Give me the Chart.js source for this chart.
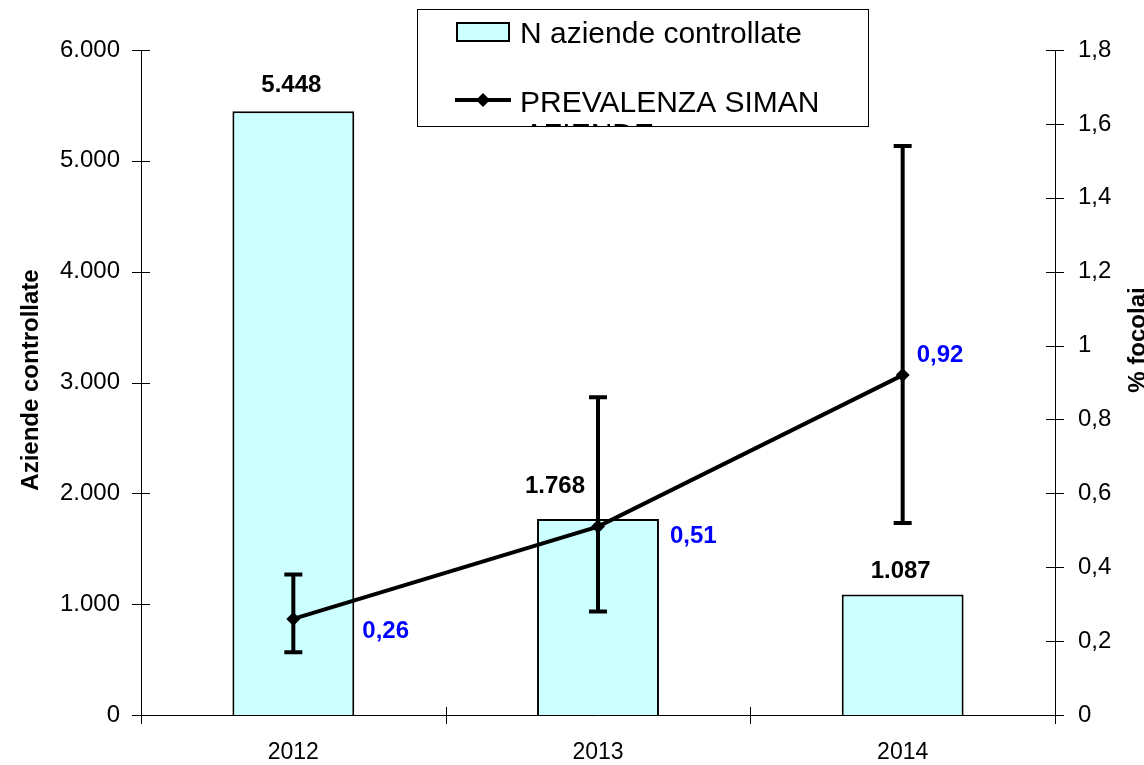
<!DOCTYPE html>
<html lang="it">
<head>
<meta charset="utf-8">
<title>Aziende controllate e prevalenza SIMAN</title>
<script src="https://cdn.jsdelivr.net/npm/chart.js@4.4.1/dist/chart.umd.min.js"></script>
<style>
  html, body { margin: 0; padding: 0; background: #fff; }
  canvas { display: block; }
</style>
</head>
<body>
<canvas id="grafico" width="1144" height="765"></canvas>
<script>
// Dati
const anni = ['2012', '2013', '2014'];
const aziendeControllate = [5448, 1768, 1087];
const prevalenza = [0.26, 0.51, 0.92];
const prevalenzaMin = [0.17, 0.28, 0.52];
const prevalenzaMax = [0.38, 0.86, 1.54];
const tickSinistra = ['0', '1.000', '2.000', '3.000', '4.000', '5.000', '6.000'];
const tickDestra = ['0', '0,2', '0,4', '0,6', '0,8', '1', '1,2', '1,4', '1,6', '1,8'];

const FONT = "'Liberation Sans', Arial, sans-serif";

// Formattazione italiana
function formatoMigliaia(v) {
    return String(v).replace(/\B(?=(\d{3})+(?!\d))/g, '.');
}
function formatoDecimale(v) {
    return String(v).replace('.', ',');
}

// Spostamento delle etichette (come nel grafico originale)
const spostaBarre = [[-2, -19], [-43, -26], [-2, -17]];
const spostaPunti = [[69, 19], [72, 16], [14, -13]];

const pluginDisegno = {
    id: 'disegno',
    afterDatasetsDraw(chart) {
        const ctx = chart.ctx;
        const x = chart.scales.x;
        const y1 = chart.scales.y1;
        // Barre di errore
        ctx.save();
        ctx.strokeStyle = '#000';
        ctx.lineWidth = 4;
        anni.forEach(function (a, i) {
            const px = x.getPixelForValue(i);
            const alto = y1.getPixelForValue(prevalenzaMax[i]);
            const basso = y1.getPixelForValue(prevalenzaMin[i]);
            ctx.beginPath();
            ctx.moveTo(px, alto); ctx.lineTo(px, basso);
            ctx.moveTo(px - 9, alto); ctx.lineTo(px + 9, alto);
            ctx.moveTo(px - 9, basso); ctx.lineTo(px + 9, basso);
            ctx.stroke();
        });
        ctx.restore();
    },
    afterDraw(chart) {
        const ctx = chart.ctx;
        const area = chart.chartArea;
        const x = chart.scales.x;
        const y = chart.scales.y;
        const y1 = chart.scales.y1;

        ctx.save();
        // Tacche degli assi
        ctx.strokeStyle = '#000';
        ctx.lineWidth = 1;
        ctx.beginPath();
        y.ticks.forEach(function (t) {
            const py = Math.round(y.getPixelForValue(t.value)) + 0.5;
            ctx.moveTo(area.left - 9, py); ctx.lineTo(area.left + 9, py);
        });
        y1.ticks.forEach(function (t) {
            const py = Math.round(y1.getPixelForValue(t.value)) + 0.5;
            ctx.moveTo(area.right - 9, py); ctx.lineTo(area.right + 9, py);
        });
        for (let i = 0; i <= anni.length; i++) {
            let px;
            if (i === 0) px = area.left;
            else if (i === anni.length) px = area.right;
            else px = (x.getPixelForValue(i - 1) + x.getPixelForValue(i)) / 2;
            px = Math.round(px) + 0.5;
            ctx.moveTo(px, area.bottom - 8); ctx.lineTo(px, area.bottom + 9);
        }
        ctx.stroke();

        // Etichette delle barre
        ctx.fillStyle = '#000';
        ctx.font = 'bold 24px ' + FONT;
        ctx.textAlign = 'center';
        ctx.textBaseline = 'alphabetic';
        aziendeControllate.forEach(function (v, i) {
            const px = x.getPixelForValue(i) + spostaBarre[i][0];
            const py = y.getPixelForValue(v) + spostaBarre[i][1];
            ctx.fillText(formatoMigliaia(v), px, py);
        });

        // Etichette della linea
        ctx.fillStyle = '#0000ff';
        ctx.textAlign = 'left';
        prevalenza.forEach(function (v, i) {
            const px = x.getPixelForValue(i) + spostaPunti[i][0];
            const py = y1.getPixelForValue(v) + spostaPunti[i][1];
            ctx.fillText(formatoDecimale(v), px, py);
        });

        // Titoli degli assi
        ctx.fillStyle = '#000';
        ctx.font = 'bold 24px ' + FONT;
        ctx.textAlign = 'center';
        ctx.textBaseline = 'middle';
        ctx.save();
        ctx.translate(31, 380);
        ctx.rotate(-Math.PI / 2);
        ctx.fillText('Aziende controllate', 0, 0);
        ctx.restore();
        ctx.save();
        ctx.translate(1138, 340);
        ctx.rotate(-Math.PI / 2);
        ctx.fillText('% focolai', 0, 0);
        ctx.restore();

        // Legenda
        ctx.save();
        ctx.beginPath();
        ctx.rect(417, 9, 452, 118);
        ctx.clip();
        ctx.fillStyle = '#fff';
        ctx.fillRect(417, 9, 452, 118);
        ctx.fillStyle = '#ccffff';
        ctx.fillRect(457, 23, 52, 18);
        ctx.strokeStyle = '#000';
        ctx.lineWidth = 2;
        ctx.strokeRect(457, 23, 52, 18);
        ctx.lineWidth = 4;
        ctx.beginPath();
        ctx.moveTo(455, 100); ctx.lineTo(511, 100);
        ctx.stroke();
        ctx.fillStyle = '#000';
        ctx.beginPath();
        ctx.moveTo(483, 93); ctx.lineTo(490, 100); ctx.lineTo(483, 107); ctx.lineTo(476, 100);
        ctx.closePath();
        ctx.fill();
        ctx.font = '30px ' + FONT;
        ctx.textAlign = 'left';
        ctx.textBaseline = 'alphabetic';
        ctx.fillText('N aziende controllate', 520, 43);
        ctx.fillText('PREVALENZA SIMAN', 520, 112);
        ctx.fillText('AZIENDE', 524, 144);
        ctx.restore();
        ctx.strokeStyle = '#000';
        ctx.lineWidth = 1;
        ctx.strokeRect(417.5, 9.5, 451, 117);
        ctx.restore();
    }
};

const ctx = document.getElementById('grafico').getContext('2d');
const grafico = new Chart(ctx, {
    data: {
        labels: anni,
        datasets: [
            {
                type: 'line',
                label: 'PREVALENZA SIMAN AZIENDE',
                data: prevalenza,
                yAxisID: 'y1',
                borderColor: '#000',
                borderWidth: 4,
                tension: 0,
                pointStyle: 'rectRot',
                pointRadius: 7,
                pointBackgroundColor: '#000',
                pointBorderColor: '#000',
                pointBorderWidth: 0,
                order: 0
            },
            {
                type: 'bar',
                label: 'N aziende controllate',
                data: aziendeControllate,
                yAxisID: 'y',
                backgroundColor: '#ccffff',
                borderColor: '#000',
                borderWidth: 2,
                barPercentage: 0.4,
                categoryPercentage: 1,
                order: 1
            }
        ]
    },
    options: {
        responsive: false,
        animation: false,
        layout: { padding: { top: 50, left: 0, right: 0, bottom: 0 } },
        plugins: {
            legend: { display: false },
            tooltip: { enabled: false }
        },
        scales: {
            x: {
                offset: true,
                grid: { display: false },
                border: { display: true, color: '#000', width: 1 },
                ticks: {
                    color: '#000',
                    padding: 16,
                    font: { family: "'Liberation Sans Narrow', " + FONT, size: 23 }
                },
                afterFit: function (scale) { scale.height = 50; }
            },
            y: {
                position: 'left',
                min: 0,
                max: 6000,
                grid: { display: false, drawTicks: false },
                border: { display: true, color: '#000', width: 1 },
                ticks: {
                    stepSize: 1000,
                    color: '#000',
                    padding: 21,
                    font: { family: FONT, size: 24 },
                    callback: function (v, i) { return tickSinistra[i]; }
                },
                afterFit: function (scale) { scale.width = 141; }
            },
            y1: {
                position: 'right',
                min: 0,
                max: 1.8,
                grid: { display: false, drawTicks: false },
                border: { display: true, color: '#000', width: 1 },
                ticks: {
                    stepSize: 0.2,
                    color: '#000',
                    padding: 23,
                    font: { family: FONT, size: 24 },
                    callback: function (v, i) { return tickDestra[i]; }
                },
                afterFit: function (scale) { scale.width = 89; }
            }
        }
    },
    plugins: [pluginDisegno]
});
</script>
</body>
</html>
